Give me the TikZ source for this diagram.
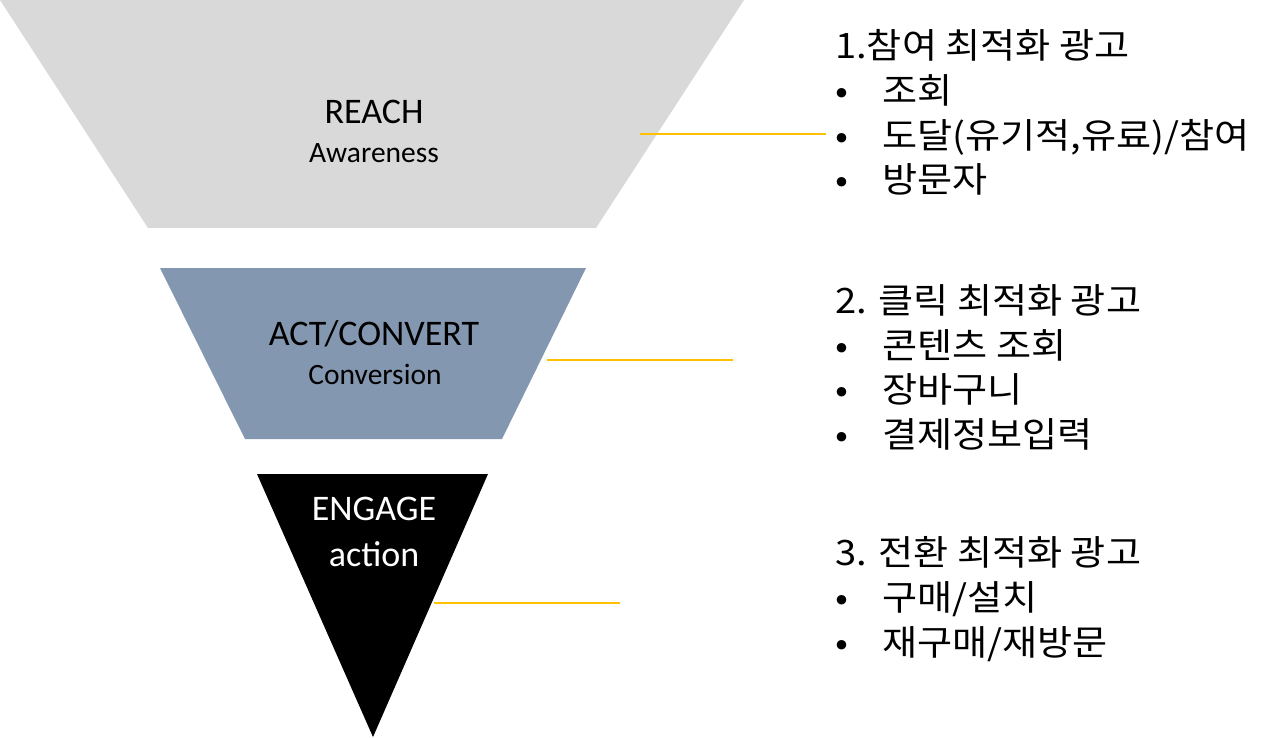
\documentclass[tikz,border=0pt]{standalone}
\usepackage{fontspec}
\setmainfont{Carlito}
\newfontfamily\kofont[FakeStretch=1.09]{Noto Sans CJK KR}
\usepackage{xcolor}
\usetikzlibrary{positioning}

\definecolor{reachgray}{HTML}{D9D9D9}
\definecolor{actblue}{HTML}{8497B0}
\definecolor{linkgold}{HTML}{FFC000}
\newcommand{\bulitem}[1]{\makebox[47pt][l]{•}#1}

\begin{document}
\begin{tikzpicture}[x=1pt, y=-1pt,
    stage/.style={inner sep=0pt, font=\fontsize{36}{40}\selectfont},
    sub/.style={inner sep=0pt, font=\fontsize{29.5}{34}\selectfont},
    hdr/.style={anchor=base west, inner sep=0pt, font=\kofont\fontsize{35}{40}\selectfont},
    link/.style={linkgold, line width=1.6pt}]

    \fill[white] (0,0) rectangle (1280,738);
    \useasboundingbox (0,0) rectangle (1280,738);

    % funnel
    \fill[reachgray] (0,0) -- (744,0) -- (596,228) -- (148,228) -- cycle;
    \fill[actblue] (160,268) -- (586,268) -- (502,439) -- (245,439) -- cycle;
    \fill[black] (257,474) -- (488,474) -- (373,737) -- cycle;

    \node[stage] (reach) at (374,112) {REACH};
    \node[sub] (aware) at (374,153) {Awareness};
    \node[stage] (act) at (374,334) {ACT/CONVERT};
    \node[sub] (conv) at (375,374) {Conversion};
    \node[stage, text=white] (engage) at (374,509) {ENGAGE};
    \node[stage, text=white] (action) at (374,554) {action};

    % right-hand lists
    \node[hdr] (h1) at (835,59) {1.참여 최적화 광고};
    \node[hdr] (h1a) at (835,104) {\bulitem{조회}};
    \node[hdr] (h1b) at (835,149) {\bulitem{도달(유기적,유료)/참여}};
    \node[hdr] (h1c) at (835,193) {\bulitem{방문자}};

    \node[hdr] (h2) at (835,313) {2. 클릭 최적화 광고};
    \node[hdr] (h2a) at (835,358) {\bulitem{콘텐츠 조회}};
    \node[hdr] (h2b) at (835,402) {\bulitem{장바구니}};
    \node[hdr] (h2c) at (835,447) {\bulitem{결제정보입력}};

    \node[hdr] (h3) at (835,565) {3. 전환 최적화 광고};
    \node[hdr] (h3a) at (835,610) {\bulitem{구매/설치}};
    \node[hdr] (h3b) at (835,655) {\bulitem{재구매/재방문}};

    % connectors
    \coordinate (r1) at (640,134);  \coordinate (r1e) at (826,134);
    \coordinate (r2) at (547,360);  \coordinate (r2e) at (733,360);
    \coordinate (r3) at (434,603);  \coordinate (r3e) at (620,603);
    \draw[link] (r1) -- (r1e);
    \draw[link] (r2) -- (r2e);
    \draw[link] (r3) -- (r3e);
\end{tikzpicture}
\end{document}
